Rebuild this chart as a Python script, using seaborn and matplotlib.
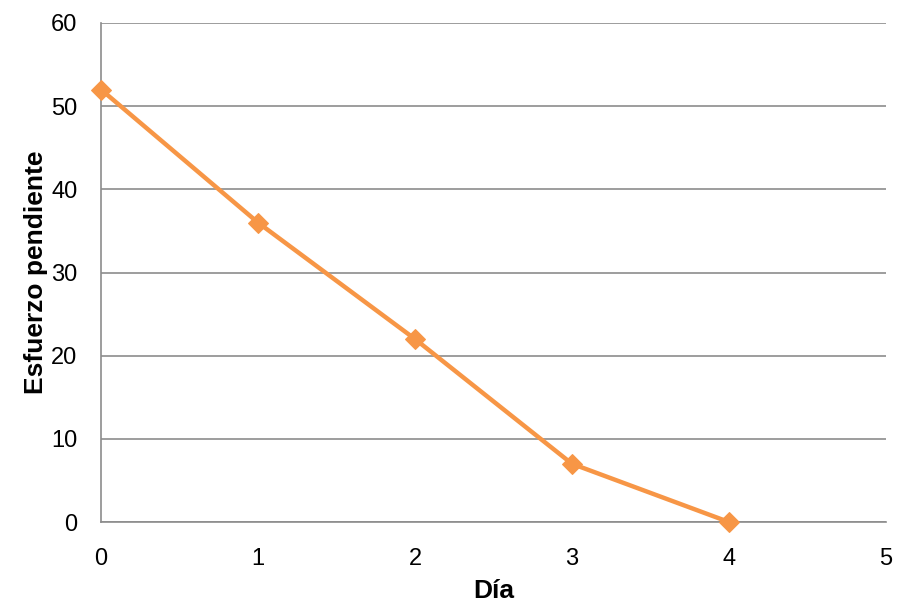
import matplotlib
matplotlib.use("Agg")
import matplotlib.pyplot as plt
import seaborn as sns
import pandas as pd

dias = [0, 1, 2, 3, 4]
esfuerzo = [52, 36, 22, 7, 0]
x_ticks = [0, 1, 2, 3, 4, 5]
y_ticks = [0, 10, 20, 30, 40, 50, 60]

sns.set_theme(style="white")
plt.rcParams["font.family"] = ["Liberation Sans", "DejaVu Sans"]

df = pd.DataFrame({"Día": dias, "Esfuerzo pendiente": esfuerzo})

fig = plt.figure(figsize=(8.98, 6.08), dpi=100)
ax = fig.add_axes([0.1125, 0.1414, 0.8741, 0.8208])

sns.lineplot(data=df, x="Día", y="Esfuerzo pendiente", ax=ax,
             color="#F79646", linewidth=3.2, marker="D", markersize=10,
             markeredgecolor="#F79646", zorder=3, clip_on=False)

ax.set_xlim(0, 5)
ax.set_ylim(0, 60)
ax.set_xticks(x_ticks)
ax.set_yticks(y_ticks)
ax.yaxis.grid(True, color="#8C8C8C", linewidth=1.2)
ax.xaxis.grid(False)
ax.set_axisbelow(True)

for side in ["top", "right"]:
    ax.spines[side].set_visible(False)
for side in ["left", "bottom"]:
    ax.spines[side].set_color("#8C8C8C")
    ax.spines[side].set_linewidth(1.2)

ax.tick_params(axis="both", length=0, labelsize=17, colors="black")
ax.tick_params(axis="y", pad=17)
ax.tick_params(axis="x", pad=19)

ax.set_xlabel("Día", fontsize=19, fontweight="bold", labelpad=6, color="black")
ax.set_ylabel("Esfuerzo pendiente", fontsize=19, fontweight="bold", labelpad=2,
              color="black")

fig.savefig("out.png", dpi=100)
